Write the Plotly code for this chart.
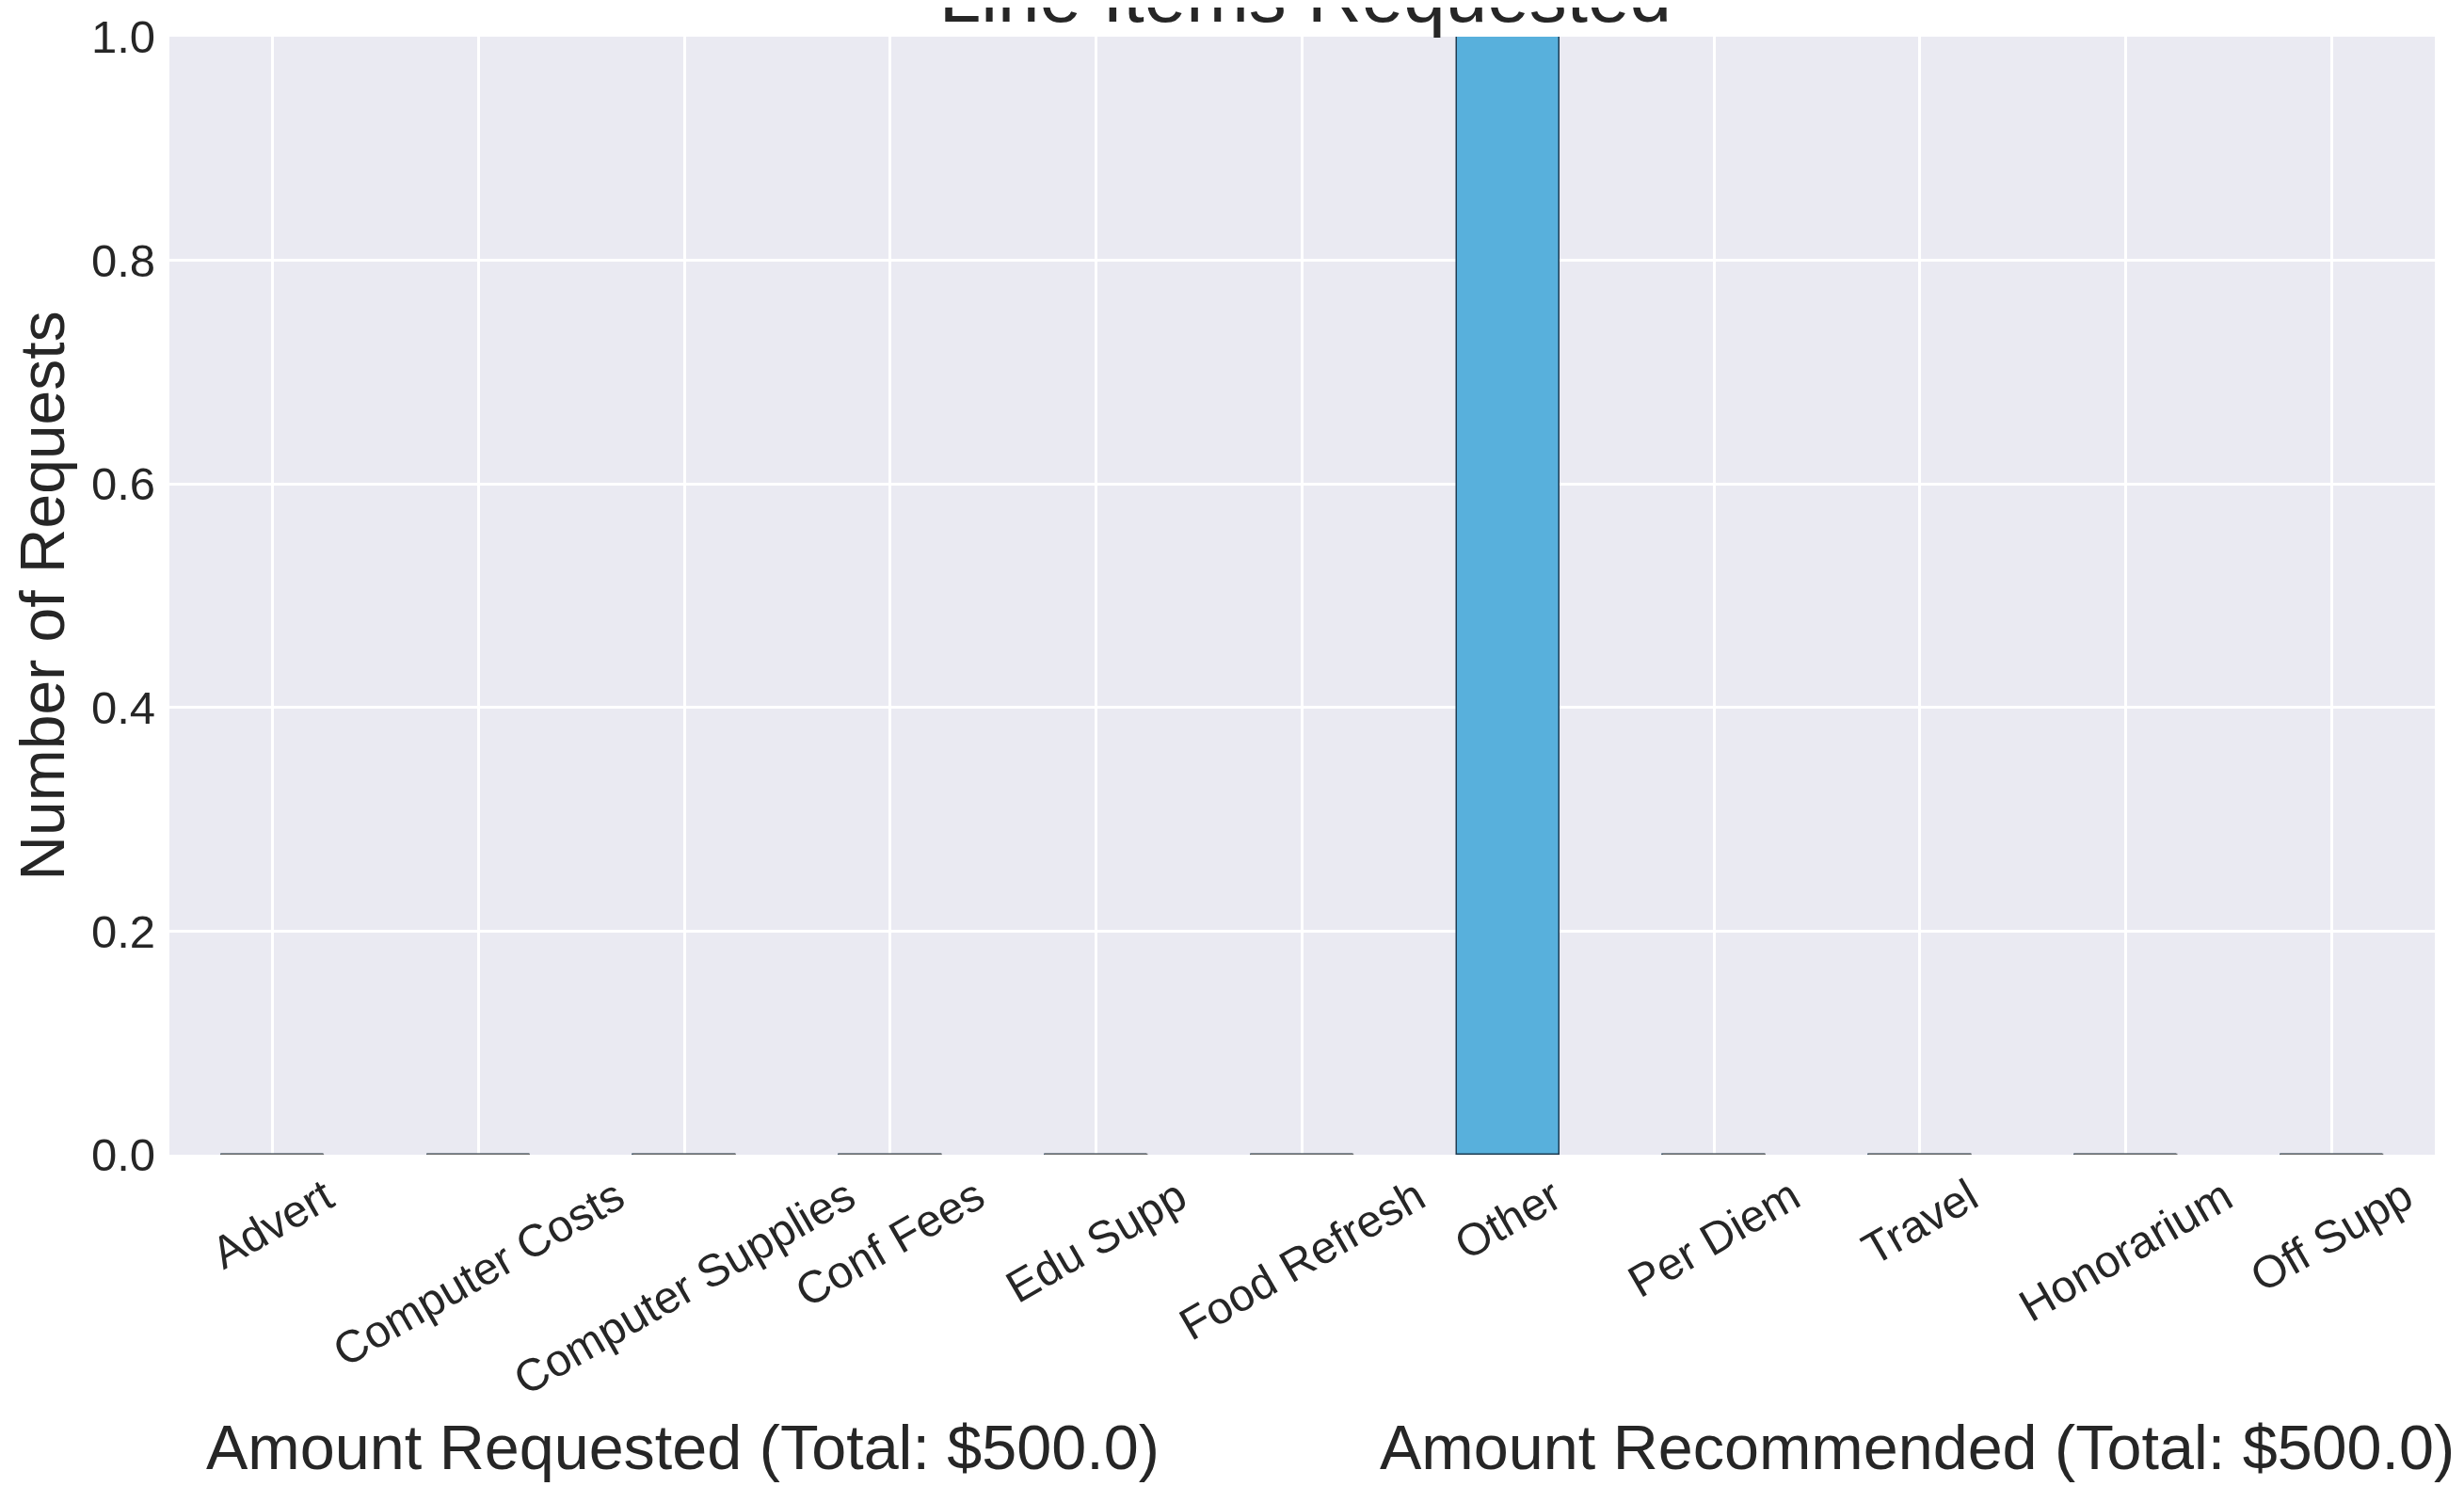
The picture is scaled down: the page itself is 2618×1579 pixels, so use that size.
import plotly.graph_objects as go

categories = ["Advert", "Computer Costs", "Computer Supplies", "Conf Fees", "Edu Supp",
              "Food Refresh", "Other", "Per Diem", "Travel", "Honorarium", "Off Supp"]
requests = [0, 0, 0, 0, 0, 0, 1, 0, 0, 0, 0]
y_ticks = [0.0, 0.2, 0.4, 0.6, 0.8, 1.0]
title = "Line Items Requested"
y_label = "Number of Requests"
total_requested = 500.0
total_recommended = 500.0

# the page body adds an 8px margin, so the figure is 8px smaller than the window
W, H = 2610, 1571
FONT = "Liberation Sans, Arial, sans-serif"
TXT = "#262626"
BAR_W = 0.5

pos = list(range(len(categories)))

fig = go.Figure()
fig.add_trace(go.Bar(
    x=pos, y=requests, width=BAR_W,
    marker=dict(color="#58b0dc", line=dict(color="#1f3c52", width=1.5)),
    hoverinfo="skip", showlegend=False,
))

# zero-height bars drawn as their outline (flat segment at the value)
zx, zy = [], []
for p, v in zip(pos, requests):
    if v == 0:
        zx += [p - BAR_W / 2, p + BAR_W / 2, None]
        zy += [v, v, None]
fig.add_trace(go.Scatter(
    x=zx, y=zy, mode="lines", line=dict(color="#707070", width=2.5),
    hoverinfo="skip", showlegend=False, cliponaxis=False,
))

annotations = []
for p, c in zip(pos, categories):
    annotations.append(dict(
        x=p, xref="x", y=-0.011, yref="paper", text=c, showarrow=False,
        textangle=-30, xanchor="center", yanchor="top",
        font=dict(family=FONT, size=48, color=TXT),
    ))
annotations.append(dict(
    x=0.0155, xref="paper", y=-0.262, yref="paper", yanchor="middle", xanchor="left",
    text=f"Amount Requested (Total: ${total_requested})", showarrow=False,
    font=dict(family=FONT, size=66.5, color=TXT),
))
annotations.append(dict(
    x=0.5335, xref="paper", y=-0.262, yref="paper", yanchor="middle", xanchor="left",
    text=f"Amount Recommended (Total: ${total_recommended})", showarrow=False,
    font=dict(family=FONT, size=66.5, color=TXT),
))

fig.update_layout(
    width=W, height=H,
    margin=dict(l=172, r=31, t=31, b=352, autoexpand=False),
    paper_bgcolor="white", plot_bgcolor="#eaeaf2",
    font=dict(family=FONT, color=TXT),
    title=dict(text=title, x=0.5283, xanchor="center", y=1 - 15 / H, yanchor="bottom",
               font=dict(family=FONT, size=80, color=TXT)),
    annotations=annotations,
    bargap=0,
)
fig.update_xaxes(
    range=[-0.5, len(categories) - 0.5], tickvals=pos, showticklabels=False,
    showgrid=True, gridcolor="white", gridwidth=2.5, zeroline=False, showline=False,
    automargin=False,
)
fig.update_yaxes(
    range=[0, 1], tickvals=y_ticks, ticktext=[f"{v:.1f}" for v in y_ticks],
    tickfont=dict(family=FONT, size=49, color=TXT), ticklabelstandoff=14,
    showgrid=True, gridcolor="white", gridwidth=2.5, zeroline=False, showline=False,
    title=dict(text=y_label, font=dict(family=FONT, size=66, color=TXT), standoff=20),
    automargin=False,
)

fig.write_html("out.html")
